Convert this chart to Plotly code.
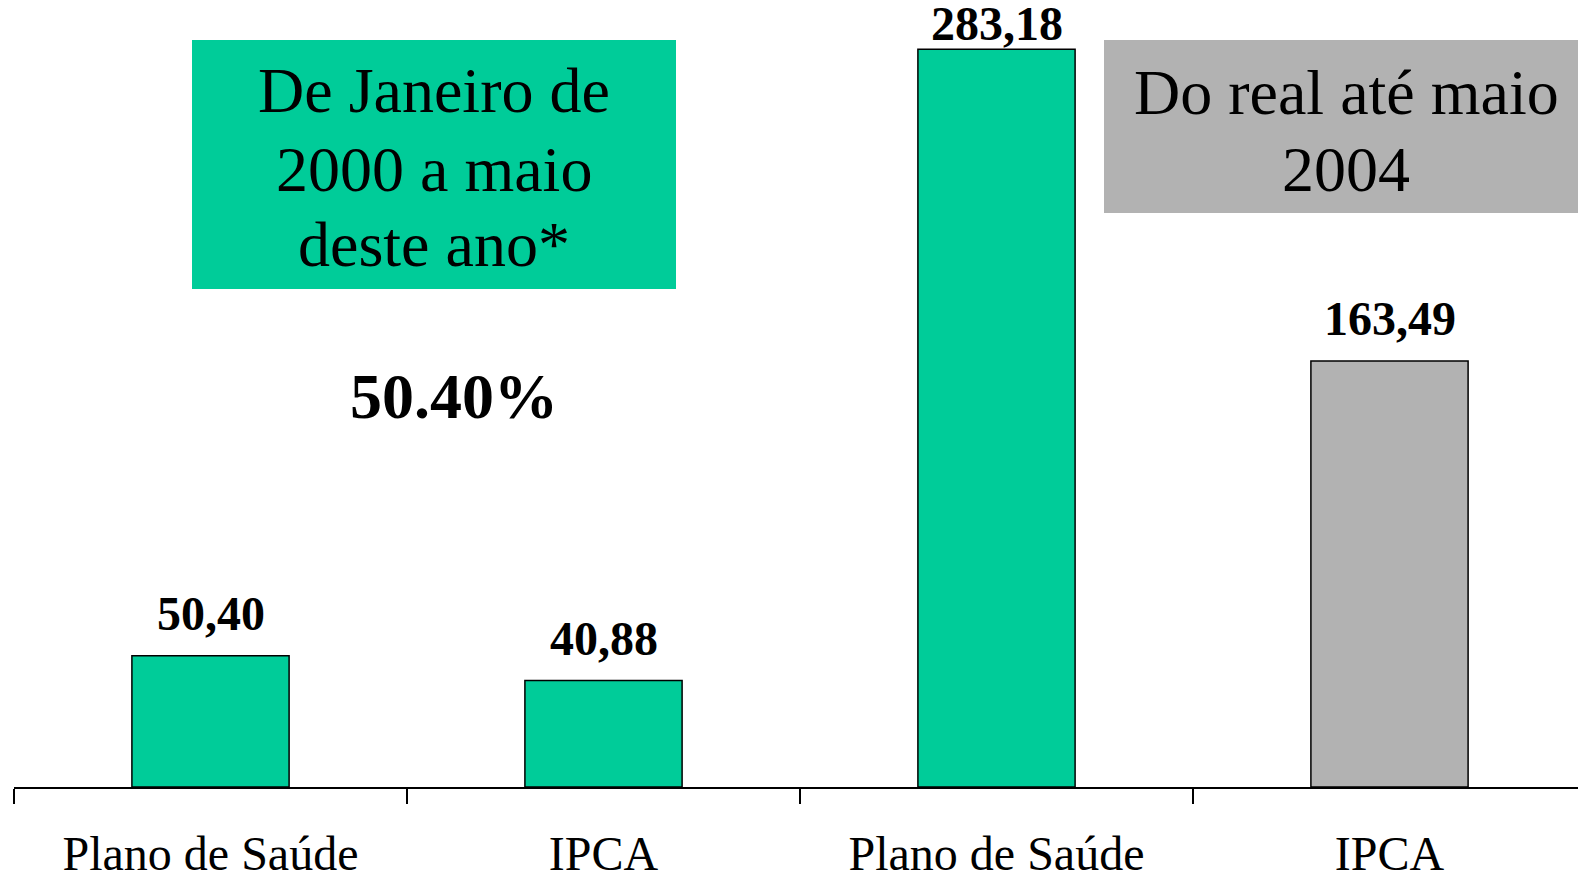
import plotly.graph_objects as go

categories = ["Plano de Saúde", "IPCA", "Plano de Saúde", "IPCA"]
values = [50.40, 40.88, 283.18, 163.49]
value_labels = ["50,40", "40,88", "283,18", "163,49"]
bar_colors = ["#00CC99", "#00CC99", "#00CC99", "#B2B2B2"]

green_box_lines = ["De Janeiro de", "2000 a maio", "deste ano*"]
gray_box_lines = ["Do real até maio", "2004"]
highlight_text = "50.40%"

FONT = "Liberation Serif, Times New Roman, serif"
W, H = 1578, 875
L, B = 14, 88
PLOT_H = H - B
PLOT_W = W - L
CAT_W = 393.0
X_MAX = -0.5 + PLOT_W / CAT_W
Y_MAX = 302.1
LABEL_SIZE = 48

def px(x):
    return (x - L) / PLOT_W

def py(y):
    return (PLOT_H - y) / PLOT_H

xs = list(range(len(categories)))

fig = go.Figure()
fig.add_trace(go.Bar(
    x=xs, y=values, width=0.4,
    marker=dict(color=bar_colors, line=dict(color="black", width=1.5)),
    hoverinfo="skip",
))

annotations = []
for i, (v, t) in enumerate(zip(values, value_labels)):
    shift = -3 if v > 250 else 14
    annotations.append(dict(x=xs[i], y=v, xref="x", yref="y", text="<b>%s</b>" % t,
                            showarrow=False, yanchor="bottom", yshift=shift,
                            font=dict(family=FONT, size=LABEL_SIZE, color="black")))

shapes = [
    dict(type="rect", xref="paper", yref="paper", x0=px(192), x1=px(676), y0=py(289), y1=py(40),
         fillcolor="#00CC99", line=dict(width=0), layer="below"),
    dict(type="rect", xref="paper", yref="paper", x0=px(1104), x1=px(1585), y0=py(213), y1=py(40),
         fillcolor="#B2B2B2", line=dict(width=0), layer="below"),
]

BOX_SIZE = 64
green_centers = [91, 169, 244]
for line, cy in zip(green_box_lines, green_centers):
    annotations.append(dict(xref="paper", yref="paper", x=px(434), y=py(cy), text=line,
                            showarrow=False, xanchor="center", yanchor="middle",
                            font=dict(family=FONT, size=BOX_SIZE, color="black")))
gray_centers = [92, 169]
for line, cy in zip(gray_box_lines, gray_centers):
    annotations.append(dict(xref="paper", yref="paper", x=px(1346), y=py(cy), text=line,
                            showarrow=False, xanchor="center", yanchor="middle",
                            font=dict(family=FONT, size=BOX_SIZE, color="black")))
annotations.append(dict(xref="paper", yref="paper", x=px(454), y=py(396), text="<b>%s</b>" % highlight_text,
                        showarrow=False, xanchor="center", yanchor="middle",
                        font=dict(family=FONT, size=64, color="black")))

fig.update_layout(
    width=W, height=H,
    margin=dict(l=L, r=0, t=0, b=B, pad=0, autoexpand=False),
    paper_bgcolor="white", plot_bgcolor="white",
    showlegend=False,
    shapes=shapes, annotations=annotations,
    xaxis=dict(range=[-0.5, X_MAX], tickmode="array", tickvals=xs, ticktext=categories,
               ticks="outside", ticklen=15, tickcolor="rgba(0,0,0,0)", ticklabelstandoff=8,
               tickfont=dict(family=FONT, size=48, color="black"), automargin=False,
               showline=True, linecolor="black", linewidth=2, showgrid=False, zeroline=False,
               minor=dict(tickmode="array", tickvals=[-0.5, 0.5, 1.5, 2.5], ticks="outside",
                          ticklen=15, tickcolor="black", tickwidth=2, showgrid=False),
               fixedrange=True),
    yaxis=dict(range=[0, Y_MAX], visible=False, showgrid=False, zeroline=False, fixedrange=True,
               automargin=False),
)

fig.write_html("out.html", config={"displayModeBar": False},
               post_script="document.body.style.margin='0';document.body.style.overflow='hidden';")
